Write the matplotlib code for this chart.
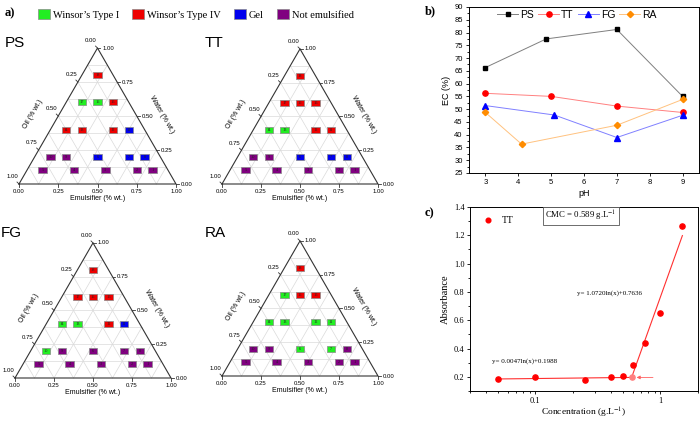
import numpy as np
import matplotlib.pyplot as plt
from matplotlib.patches import Patch
from matplotlib.ticker import MultipleLocator, LogLocator, NullFormatter, FixedLocator

plt.rcParams['mathtext.fontset'] = 'stix'

SERIF = 'Liberation Serif'
SANS = 'Liberation Sans'

# ---- a) ternary diagrams: formulations 1..18 (emulsifier and water fractions)
emulsifier = [0.8, 0.7, 0.5, 0.3, 0.1, 0.4, 0.6, 0.7, 0.2, 0.1,
              0.5, 0.4, 0.2, 0.1, 0.3, 0.2, 0.1, 0.1]
water = [0.1, 0.1, 0.1, 0.1, 0.1, 0.2, 0.2, 0.2, 0.2, 0.2,
         0.4, 0.4, 0.4, 0.4, 0.6, 0.6, 0.6, 0.8]
# G = Winsor I, R = Winsor IV, B = gel, P = not emulsified
ps_class = 'PPPPPBBBPPBRRRRGGR'
tt_class = 'PPPPPBBBPPRRGGRRRR'
fg_class = 'PPPPPPPPPGBRGGRRRR'
ra_class = 'PPPPPGGPPPGGGGRRGR'

class_colors = {'G': '#22ee22', 'R': '#ee0000', 'B': '#0000ee', 'P': '#800080'}
class_names = {'G': 'Winsor\u2019s Type I', 'R': 'Winsor\u2019s Type IV',
               'B': 'Gel', 'P': 'Not emulsified'}

# ---- b) emulsifying capacity vs pH
ps_ph = [3, 4.85, 7, 9]
ps_ec = [66.3, 77.5, 81.2, 55.0]
tt_ph = [3, 5, 7, 9]
tt_ec = [56.2, 55.0, 51.2, 48.7]
fg_ph = [3, 5.1, 7, 9]
fg_ec = [51.4, 47.7, 38.9, 47.6]
ra_ph = [3, 4.1, 7, 9]
ra_ec = [48.7, 36.3, 43.7, 53.8]

# ---- c) CMC of TT
conc = [0.05, 0.1, 0.25, 0.4, 0.5, 0.6, 0.75, 1.0, 1.5]
absorb = [0.182, 0.200, 0.179, 0.196, 0.203, 0.283, 0.436, 0.649, 1.267]
cmc_x = 0.589
cmc_y = 0.196
fit_low_x = [0.05, 0.589]
fit_low_y = [0.185, 0.196]
fit_high_x = [0.589, 1.5]
fit_high_y = [0.196, 1.198]

fig = plt.figure(figsize=(7, 4.22), dpi=100)
W, H = 700, 422
S3 = np.sqrt(3) / 2


def cart(e, w):
    e = np.asarray(e, float)
    w = np.asarray(w, float)
    return e + w / 2, w * S3


def ternary(classes, bl, side):
    mx, mb, mt = 0.3, 0.22, 0.12
    ax = fig.add_axes([(bl[0] - mx * side) / W, (H - bl[1] - mb * side) / H,
                       (1 + 2 * mx) * side / W, (S3 + mb + mt) * side / H])
    ax.set_xlim(-mx, 1 + mx)
    ax.set_ylim(-mb, S3 + mt)
    ax.axis('off')
    # grid
    for k in range(1, 8):
        f = k / 8
        for e, w in (([0, 1 - f], [f, f]), ([f, f], [0, 1 - f]), ([1 - f, 0], [0, 1 - f])):
            x, y = cart(e, w)
            ax.plot(x, y, color='#dadada', lw=0.5, zorder=1)
    # frame
    x, y = cart([0, 1, 0, 0], [0, 0, 1, 0])
    ax.plot(x, y, color='#333333', lw=0.8, zorder=2)
    ticks = [0, 0.25, 0.5, 0.75, 1.0]
    tl = 0.018
    for t in ticks:
        lab = '%.2f' % t
        # emulsifier (bottom)
        x, y = cart(t, 0)
        ax.plot([x, x], [y, y - tl], color='#333333', lw=0.6)
        ax.text(x, y - 0.045, lab, fontsize=4.3, family=SANS, ha='center', va='center')
        # oil (left), oil = 1 - water on left edge
        x, y = cart(0, 1 - t)
        ax.plot([x, x - tl * 0.7], [y, y + tl * 0.7], color='#333333', lw=0.6)
        ax.text(x - 0.005, y + 0.045, lab, fontsize=4.3, family=SANS, ha='right', va='center')
        # water (right)
        x, y = cart(1 - t, t)
        ax.plot([x, x + tl], [y, y], color='#333333', lw=0.6)
        ax.text(x + 0.03, y, lab, fontsize=4.3, family=SANS, ha='left', va='center')
    ax.text(0.5, -0.092, 'Emulsifier (% wt.)', fontsize=5, family=SANS, ha='center', va='center')
    ax.text(0.09, 0.445, 'Oil (% wt.)', fontsize=5, family=SANS,
            ha='center', va='center', rotation=60)
    ax.text(0.91, 0.445, 'Water (% wt.)', fontsize=5, family=SANS,
            ha='center', va='center', rotation=-60)
    # points
    x, y = cart(emulsifier, water)
    cols = [class_colors[c] for c in classes]
    box = [(-1, -0.72), (1, -0.72), (1, 0.72), (-1, 0.72), (-1, -0.72)]
    ax.scatter(x, y, s=36, marker=box, c=cols, edgecolors='#8a8a8a', linewidths=0.5, zorder=3)
    for i in range(len(x)):
        ax.text(x[i], y[i], str(i + 1), fontsize=3.2, family=SERIF, ha='center',
                va='center', color='#222222', zorder=4)
    return ax


ternary(ps_class, (19, 184), 157)
ternary(tt_class, (222, 184), 156)
ternary(fg_class, (15, 378), 156)
ternary(ra_class, (222, 376), 156)

for name, px, py in (('PS', 5, 43), ('TT', 205, 43), ('FG', 1, 233), ('RA', 205, 233)):
    fig.text(px / W, 1 - py / H, name, fontsize=11, family=SANS, ha='left', va='center')

fig.text(5 / W, 1 - 13 / H, 'a)', fontsize=9, family=SERIF, weight='bold', va='center')
fig.text(425 / W, 1 - 11 / H, 'b)', fontsize=9, family=SERIF, weight='bold', va='center')
fig.text(425 / W, 1 - 213 / H, 'c)', fontsize=9, family=SERIF, weight='bold', va='center')

handles = [Patch(facecolor=class_colors[k], edgecolor='#8a8a8a', linewidth=0.5,
                 label=class_names[k]) for k in 'GRBP']
fig.legend(handles=handles, loc='center left', bbox_to_anchor=(38 / W, 1 - 14.5 / H),
           ncol=4, frameon=False, prop={'family': SERIF, 'size': 7.5},
           handlelength=1.15, handleheight=1.1, handletextpad=0.25, columnspacing=1.3,
           borderpad=0, borderaxespad=0)

# ---- b)
axb = fig.add_axes([469 / W, (H - 173) / H, 230 / W, 166 / H])
axb.plot(ps_ph, ps_ec, color='#7f7f7f', lw=0.7, marker='s', ms=3.5, mfc='black', mec='black', label='PS')
axb.plot(tt_ph, tt_ec, color='#ff8080', lw=0.7, marker='o', ms=3.8, mfc='#ff0000', mec='#ff0000', label='TT')
axb.plot(fg_ph, fg_ec, color='#8080ff', lw=0.7, marker='^', ms=3.8, mfc='#0000ff', mec='#0000ff', label='FG')
axb.plot(ra_ph, ra_ec, color='#ffc27f', lw=0.7, marker='D', ms=3.2, mfc='#ff8c00', mec='#ff8c00', label='RA')
axb.set_xlim(2.5, 9.5)
axb.set_ylim(25, 90)
axb.yaxis.set_major_locator(MultipleLocator(5))
axb.yaxis.set_minor_locator(MultipleLocator(2.5))
axb.xaxis.set_major_locator(MultipleLocator(1))
axb.tick_params(which='both', direction='out', labelsize=5.5, width=0.6, pad=2)
axb.tick_params(which='major', length=2.5)
axb.tick_params(which='minor', length=1.5)
for lab in axb.get_xticklabels() + axb.get_yticklabels():
    lab.set_family(SANS)
for sp in axb.spines.values():
    sp.set_linewidth(0.7)
axb.set_xlabel('pH', family=SANS, fontsize=6.5, labelpad=2)
axb.set_ylabel('EC (%)', family=SANS, fontsize=6.5, labelpad=2)
axb.legend(loc='upper center', bbox_to_anchor=(0.47, 1.02), ncol=4, frameon=False,
           prop={'family': SANS, 'size': 7.5}, handlelength=2.0, handletextpad=0.2,
           columnspacing=0.4, borderaxespad=0.2)

# ---- c)
axc = fig.add_axes([470 / W, (H - 391) / H, 228 / W, 184 / H])
axc.plot(fit_low_x, fit_low_y, color='#ff3030', lw=0.8, zorder=1)
axc.plot(fit_high_x, fit_high_y, color='#ff3030', lw=0.8, zorder=1)
axc.scatter(conc, absorb, s=14, color='#ff0000', zorder=3, label='TT')
axc.scatter([cmc_x], [cmc_y], s=14, color='#ff8080', zorder=3)
axc.annotate('', xy=(0.645, cmc_y), xytext=(0.873, cmc_y),
             arrowprops=dict(arrowstyle='-|>', color='#ff6060', lw=0.6,
                             mutation_scale=5, shrinkA=0, shrinkB=0))
axc.set_xscale('log')
axc.set_xlim(0.03, 2.0)
axc.set_ylim(0.1, 1.4)
axc.xaxis.set_major_locator(FixedLocator([0.1, 1]))
axc.set_xticklabels(['0.1', '1'])
axc.xaxis.set_minor_locator(LogLocator(base=10, subs=np.arange(2, 10)))
axc.xaxis.set_minor_formatter(NullFormatter())
axc.yaxis.set_minor_locator(MultipleLocator(0.1))
axc.set_yticks([0.2, 0.4, 0.6, 0.8, 1.0, 1.2, 1.4])
axc.set_yticklabels(['0.2', '0.4', '0.6', '0.8', '1.0', '1.2', '1.4'])
axc.tick_params(which='both', direction='out', labelsize=6, width=0.6, pad=1.5)
axc.tick_params(which='major', length=2.5)
axc.tick_params(which='minor', length=1.5)
for lab in axc.get_xticklabels() + axc.get_yticklabels():
    lab.set_family(SERIF)
for sp in axc.spines.values():
    sp.set_linewidth(0.7)
axc.set_xlabel('Concentration (g.L$^{-1}$)', family=SERIF, fontsize=6.8, labelpad=1)
axc.set_ylabel('Absorbance', family=SERIF, fontsize=7.5, labelpad=3)
axc.legend(loc='upper left', frameon=False, prop={'family': SERIF, 'size': 7},
           handletextpad=0.4, borderaxespad=0.5, markerscale=0.9)
axc.text(0.487, 0.951, 'CMC = 0.589 g.L$^{-1}$', transform=axc.transAxes, fontsize=6.3,
         family=SERIF, ha='center', va='center',
         bbox=dict(boxstyle='square,pad=0.25', facecolor='white', edgecolor='#555555', lw=0.6))
axc.text(0.614, 0.53, 'y= 1.0720ln(x)+0.7636', transform=axc.transAxes, fontsize=5,
         family=SERIF, ha='center', va='center')
axc.text(0.241, 0.164, 'y= 0.0047ln(x)+0.1988', transform=axc.transAxes, fontsize=5,
         family=SERIF, ha='center', va='center')

fig.savefig('out.png', dpi=100)
